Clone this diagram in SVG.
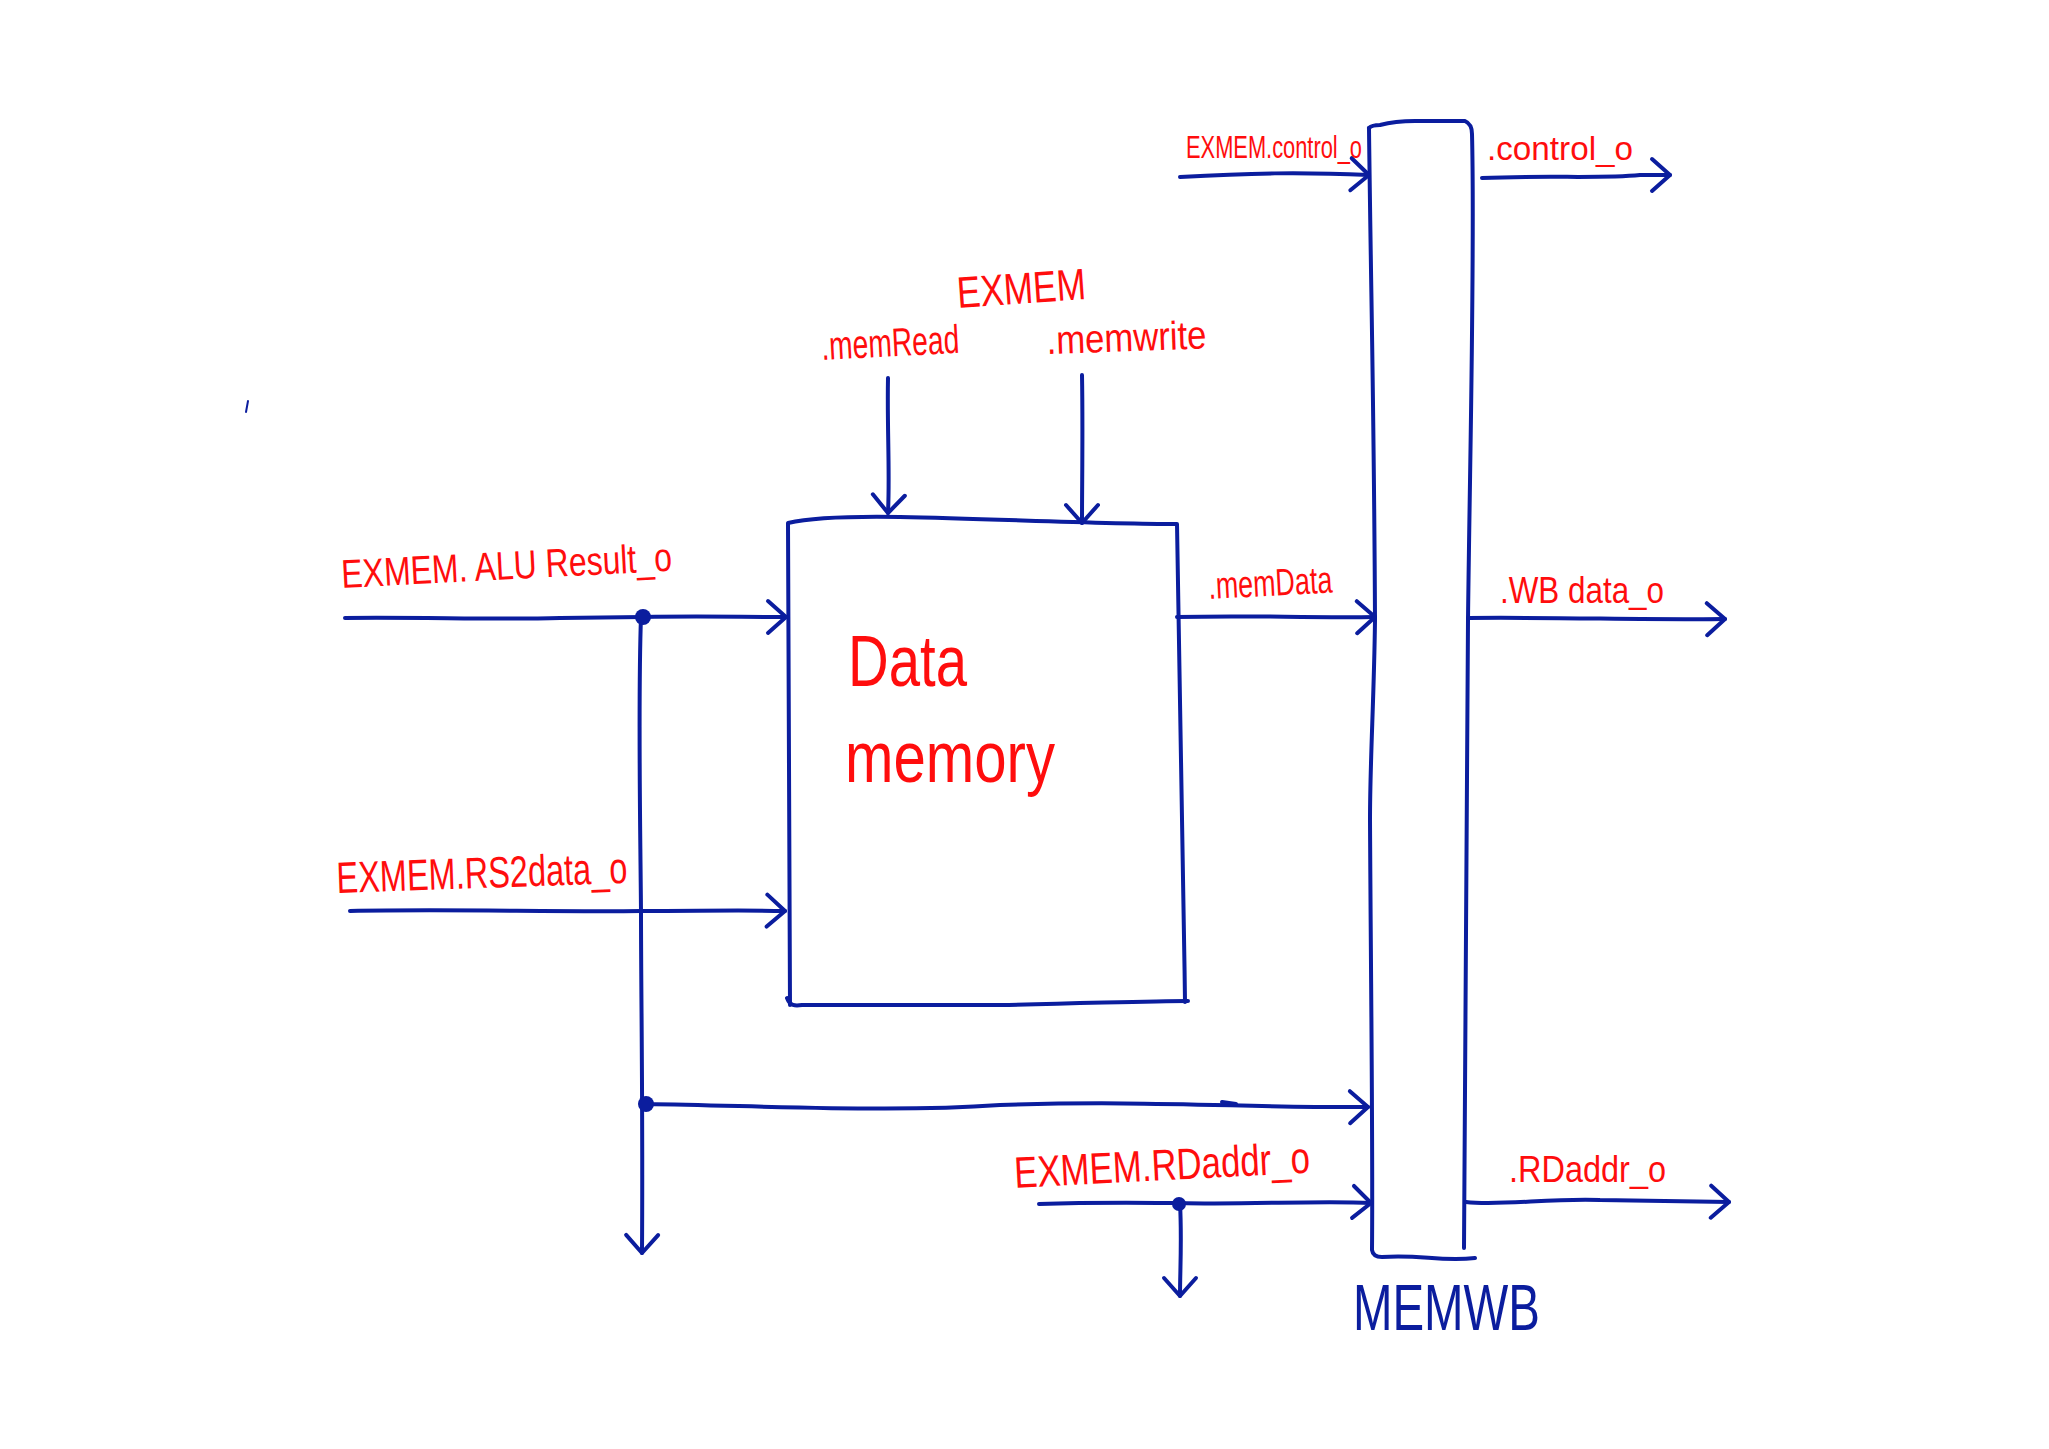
<svg xmlns="http://www.w3.org/2000/svg" width="2049" height="1449" viewBox="0 0 2049 1449">
<style>
.ln{fill:none;stroke:#0b1d9e;stroke-width:4;stroke-linecap:round;stroke-linejoin:round}
.lbl{fill:#ff0d0d;font-family:"Liberation Sans",Arial,sans-serif}
.big{fill:#ff0d0d;font-family:"Liberation Sans",Arial,sans-serif;font-weight:300}
.blue{fill:#0b1d9e;font-family:"Liberation Sans",Arial,sans-serif}
.dot{fill:#0b1d9e}
</style>
<defs>
<marker id="arr" viewBox="0 0 24 40" refX="21" refY="20" markerWidth="24" markerHeight="40" markerUnits="userSpaceOnUse" orient="auto">
<path d="M3,4 L21,20 L3,36" fill="none" stroke="#0b1d9e" stroke-width="4" stroke-linecap="round" stroke-linejoin="round"/>
</marker>
</defs>
<rect width="2049" height="1449" fill="#ffffff"/>

<g id="data-memory">
<path class="ln" d="M790,1005 C788,800 789,600 788,523 C810,518 840,516 900,517 C1000,519 1100,524 1177,524 C1180,700 1183,850 1185,1002"/>
<path class="ln" d="M787,998 C790,1006 795,1006 802,1005 L1000,1005 C1100,1003 1150,1001 1188,1001"/>
<text class="big" x="848" y="686" font-size="72" textLength="119" lengthAdjust="spacingAndGlyphs">Data</text>
<text class="big" x="845" y="782" font-size="72" textLength="210" lengthAdjust="spacingAndGlyphs">memory</text>
</g>

<g id="memwb">
<path class="ln" d="M1369,128 C1371,300 1374,400 1375,620 C1374,700 1370,760 1370,820 C1371,1000 1373,1150 1372,1250 Q1373,1257 1382,1257 C1420,1254 1440,1262 1475,1258"/>
<path class="ln" d="M1369,128 Q1372,125 1380,125 Q1395,121 1415,121 L1465,121 Q1472,124 1472,134 C1475,250 1470,450 1468,620 C1466,900 1465,1100 1464,1248"/>
<text class="blue" x="1353" y="1330" font-size="64" textLength="187" lengthAdjust="spacingAndGlyphs">MEMWB</text>
</g>

<g id="connectors">
<path class="ln" d="M345,618 C420,617 500,620 560,618 L643,617 C700,616 740,617 786,617" marker-end="url(#arr)"/>
<path class="ln" d="M641,617 C638,700 640,800 641,911 C641,1000 643,1100 642,1253" marker-end="url(#arr)"/>
<path class="ln" d="M350,911 C450,909 550,912 641,911 C700,911 740,910 785,911" marker-end="url(#arr)"/>
<path class="ln" d="M646,1104 C800,1107 900,1112 1000,1105 C1150,1100 1250,1108 1368,1107" marker-end="url(#arr)"/>
<path class="ln" d="M1222,1102 L1236,1104"/>
<path class="ln" d="M888,378 C887,430 890,470 888,513" marker-end="url(#arr)"/>
<path class="ln" d="M1082,375 C1083,430 1082,480 1082,523" marker-end="url(#arr)"/>
<path class="ln" d="M1177,617 C1250,615 1300,618 1375,617" marker-end="url(#arr)"/>
<path class="ln" d="M1180,177 C1250,173 1300,172 1369,175" marker-end="url(#arr)"/>
<path class="ln" d="M1482,178 C1550,175 1600,179 1640,175 L1670,175" marker-end="url(#arr)"/>
<path class="ln" d="M1468,618 C1550,617 1650,620 1725,619" marker-end="url(#arr)"/>
<path class="ln" d="M1039,1204 C1100,1202 1150,1203 1179,1203 C1250,1205 1320,1200 1371,1203" marker-end="url(#arr)"/>
<path class="ln" d="M1180,1203 C1182,1240 1180,1270 1180,1296" marker-end="url(#arr)"/>
<path class="ln" d="M1466,1202 C1500,1206 1550,1198 1600,1200 L1729,1202" marker-end="url(#arr)"/>
<circle class="dot" cx="643" cy="617" r="8"/>
<circle class="dot" cx="646" cy="1104" r="8"/>
<circle class="dot" cx="1179" cy="1204" r="7"/>
<path class="ln" d="M248,401 L246,412" style="stroke-width:2"/>
</g>

<g id="labels">
<text class="lbl" x="1186" y="158" font-size="32" textLength="176" lengthAdjust="spacingAndGlyphs">EXMEM.control_o</text>
<text class="lbl" x="1487" y="160" font-size="34" textLength="146" lengthAdjust="spacingAndGlyphs">.control_o</text>
<text class="lbl" x="958" y="308" font-size="44" textLength="129" lengthAdjust="spacingAndGlyphs" transform="rotate(-4 958 308)">EXMEM</text>
<text class="lbl" x="822" y="360" font-size="40" textLength="138" lengthAdjust="spacingAndGlyphs" transform="rotate(-3 822 360)">.memRead</text>
<text class="lbl" x="1047" y="354" font-size="40" textLength="160" lengthAdjust="spacingAndGlyphs" transform="rotate(-2 1047 354)">.memwrite</text>
<text class="lbl" x="342" y="588" font-size="40" textLength="331" lengthAdjust="spacingAndGlyphs" transform="rotate(-3 342 588)">EXMEM. ALU Result_o</text>
<text class="lbl" x="1209" y="599" font-size="38" textLength="124" lengthAdjust="spacingAndGlyphs" transform="rotate(-3 1209 599)">.memData</text>
<text class="lbl" x="1500" y="603" font-size="36" textLength="164" lengthAdjust="spacingAndGlyphs">.WB data_o</text>
<text class="lbl" x="337" y="893" font-size="44" textLength="291" lengthAdjust="spacingAndGlyphs" transform="rotate(-2 337 893)">EXMEM.RS2data_o</text>
<text class="lbl" x="1015" y="1188" font-size="44" textLength="296" lengthAdjust="spacingAndGlyphs" transform="rotate(-3 1015 1188)">EXMEM.RDaddr_o</text>
<text class="lbl" x="1509" y="1182" font-size="36" textLength="157" lengthAdjust="spacingAndGlyphs">.RDaddr_o</text>
</g>
</svg>
